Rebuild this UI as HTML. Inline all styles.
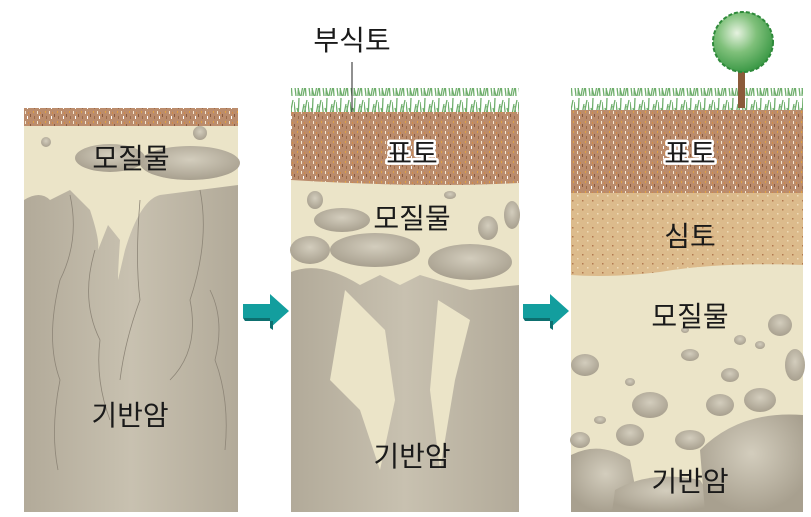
<!DOCTYPE html>
<html><head><meta charset="utf-8"><style>
html,body{margin:0;padding:0;background:#fff;}
svg{display:block}
text{font-family:"Liberation Sans","Noto Sans CJK KR",sans-serif;font-size:28px;fill:#1a1a1a;text-anchor:middle}
.h{stroke:#fff;stroke-width:5;paint-order:stroke;stroke-linejoin:round}
</style></head><body>
<svg width="811" height="517" viewBox="0 0 811 517">
<defs>
<pattern id="top" width="12" height="10" patternUnits="userSpaceOnUse">
<rect width="12" height="10" fill="#bb8c6c"/>
<rect x="1" y="1" width="1" height="3" fill="#f3e6d0"/><rect x="6" y="4" width="1" height="3" fill="#8a5a3e"/>
<rect x="9" y="1" width="1" height="2" fill="#e0a040"/><rect x="3" y="6" width="1" height="3" fill="#fff"/>
<rect x="10" y="6" width="1" height="3" fill="#9a6a4a"/><rect x="4" y="2" width="1" height="2" fill="#d08a4a"/>
</pattern>
<pattern id="sub" width="10" height="9" patternUnits="userSpaceOnUse">
<rect width="10" height="9" fill="#dcbb8c"/>
<rect x="2" y="2" width="1.5" height="1.5" fill="#b27a50"/><rect x="7" y="6" width="1.5" height="1.5" fill="#f0dcb8"/>
</pattern>
<radialGradient id="rk" cx="50%" cy="40%" r="60%"><stop offset="0" stop-color="#d3cdbd"/><stop offset="1" stop-color="#a8a08f"/></radialGradient>
<radialGradient id="tr" cx="40%" cy="35%" r="65%"><stop offset="0" stop-color="#e6f2e0"/><stop offset=".5" stop-color="#7fc07a"/><stop offset="1" stop-color="#3e9a48"/></radialGradient>
<linearGradient id="bed" x1="0" x2="1"><stop offset="0" stop-color="#b2aa99"/><stop offset=".5" stop-color="#c8c1b0"/><stop offset="1" stop-color="#b2aa99"/></linearGradient>
<pattern id="grass" width="14" height="24" patternUnits="userSpaceOnUse">
<path d="M2 24 L0 6 M4 24 L5 2 M7 24 L10 8 M9 24 L13 4 M12 24 L11 10 M6 24 L3 12" stroke="#6fae6c" stroke-width="1.3" fill="none"/>
</pattern>
</defs>

<!-- Panel 1 -->
<rect x="24" y="108" width="214" height="404" fill="#ebe4c8"/>
<rect x="24" y="108" width="214" height="18" fill="url(#top)"/>
<path d="M24 200 Q40 190 50 200 L70 190 L90 210 Q100 240 98 250 L108 225 L120 240 Q118 270 118 280 L125 250 Q140 200 160 195 L238 185 L238 512 L24 512 Z" fill="url(#bed)"/>
<ellipse cx="190" cy="163" rx="50" ry="17" fill="url(#rk)"/>
<ellipse cx="110" cy="158" rx="35" ry="14" fill="url(#rk)"/>
<circle cx="46" cy="142" r="5" fill="url(#rk)"/><circle cx="200" cy="133" r="7" fill="url(#rk)"/>
<g stroke="#8d8577" stroke-width="0.8" fill="none">
<path d="M70 195 Q80 240 60 280 Q45 340 60 380 Q50 430 58 470"/>
<path d="M95 250 Q80 300 100 340 Q95 380 110 420"/>
<path d="M140 200 Q135 260 140 300 Q125 340 120 380"/>
<path d="M200 190 Q210 240 190 300 Q200 350 170 380"/>
<path d="M210 290 Q225 320 215 360 Q230 400 225 450"/>
</g>
<text x="131" y="168">모질물</text>
<text x="130" y="425">기반암</text>

<!-- Arrow 1 -->
<path d="M243 304 H270 V294 L289 311 L270 328 V318 H243 Z" fill="#139e9e"/>
<path d="M243 318 H270 V328 L273 330 V321 H245 Z" fill="#0d6f6f"/>

<!-- Panel 2 -->
<rect x="291" y="112" width="228" height="400" fill="#ebe4c8"/>
<rect x="291" y="88" width="228" height="24" fill="url(#grass)"/>
<path d="M291 112 H519 V183 Q420 188 291 180 Z" fill="url(#top)"/>
<path d="M291 272 Q320 260 360 285 L380 275 L400 285 L420 275 L470 290 L519 285 V512 H291 Z" fill="url(#bed)"/>
<path d="M345 290 L330 380 L360 410 L380 470 L395 400 L385 330 Z" fill="#ebe4c8"/>
<path d="M438 300 L430 390 L440 470 L455 380 L470 320 Z" fill="#ebe4c8"/>
<ellipse cx="375" cy="250" rx="45" ry="17" fill="url(#rk)"/>
<ellipse cx="470" cy="262" rx="42" ry="18" fill="url(#rk)"/>
<ellipse cx="310" cy="250" rx="20" ry="14" fill="url(#rk)"/>
<ellipse cx="342" cy="220" rx="28" ry="12" fill="url(#rk)"/>
<ellipse cx="315" cy="200" rx="8" ry="9" fill="url(#rk)"/>
<ellipse cx="450" cy="195" rx="6" ry="4" fill="url(#rk)"/>
<ellipse cx="488" cy="228" rx="10" ry="12" fill="url(#rk)"/>
<ellipse cx="512" cy="215" rx="8" ry="14" fill="url(#rk)"/>
<line x1="352" y1="62" x2="352" y2="112" stroke="#222" stroke-width="1"/>
<text x="352" y="50">부식토</text>
<text x="412" y="163" class="h">표토</text>
<text x="412" y="228">모질물</text>
<text x="412" y="466">기반암</text>

<!-- Arrow 2 -->
<path d="M523 304 H550 V294 L569 311 L550 328 V318 H523 Z" fill="#139e9e"/>
<path d="M523 318 H550 V328 L553 330 V321 H525 Z" fill="#0d6f6f"/>

<!-- Panel 3 -->
<rect x="571" y="110" width="232" height="402" fill="#ebe4c8"/>
<rect x="571" y="88" width="232" height="24" fill="url(#grass)"/>
<rect x="738" y="60" width="7" height="48" fill="#8b5a3a"/>
<circle cx="743" cy="42" r="30" fill="url(#tr)" stroke="#2e8a3a" stroke-width="2" stroke-dasharray="4 2"/>
<rect x="571" y="110" width="232" height="83" fill="url(#top)"/>
<path d="M571 193 H803 V265 Q720 262 660 272 Q610 278 571 275 Z" fill="url(#sub)"/>
<g fill="url(#rk)">
<path d="M571 455 Q600 440 630 460 L640 512 H571 Z"/>
<path d="M615 490 Q650 470 700 480 L720 512 H612 Z"/>
<path d="M700 450 Q740 410 803 415 V512 H705 Z"/>
<ellipse cx="585" cy="365" rx="14" ry="11"/><ellipse cx="650" cy="405" rx="18" ry="13"/>
<ellipse cx="630" cy="435" rx="14" ry="11"/><ellipse cx="690" cy="440" rx="15" ry="10"/>
<ellipse cx="720" cy="405" rx="14" ry="11"/><ellipse cx="760" cy="400" rx="16" ry="12"/>
<ellipse cx="780" cy="325" rx="12" ry="11"/><ellipse cx="795" cy="365" rx="10" ry="16"/>
<ellipse cx="690" cy="355" rx="9" ry="6"/><ellipse cx="730" cy="375" rx="9" ry="7"/>
<ellipse cx="600" cy="420" rx="6" ry="4"/><ellipse cx="740" cy="340" rx="6" ry="5"/>
<ellipse cx="630" cy="382" rx="5" ry="4"/><ellipse cx="580" cy="440" rx="10" ry="8"/>
<ellipse cx="685" cy="330" rx="4" ry="3"/><ellipse cx="760" cy="345" rx="5" ry="4"/>
</g>
<text x="690" y="163" class="h">표토</text>
<text x="690" y="246">심토</text>
<text x="690" y="326">모질물</text>
<text x="690" y="491">기반암</text>
</svg>
</body></html>
